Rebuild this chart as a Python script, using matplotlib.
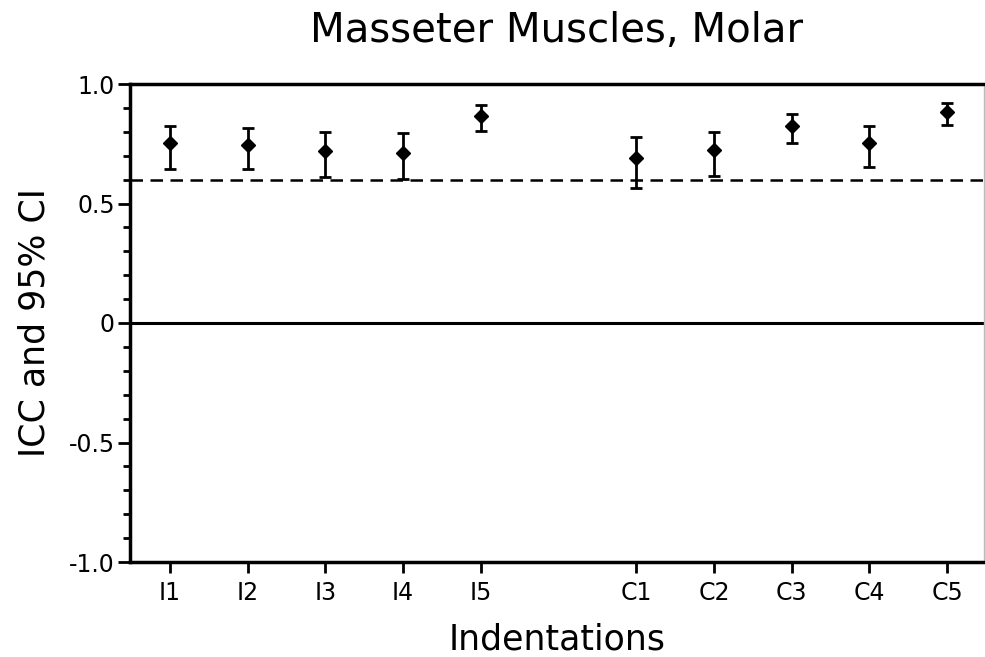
import numpy as np
import matplotlib
matplotlib.use('Agg')
import matplotlib.pyplot as plt

plt.rcParams['font.family'] = ['DejaVu Sans']

# ICC estimates with 95% CI
labels = ['I1', 'I2', 'I3', 'I4', 'I5', 'C1', 'C2', 'C3', 'C4', 'C5']
positions = [1, 2, 3, 4, 5, 7, 8, 9, 10, 11]
icc = [0.752, 0.745, 0.721, 0.713, 0.866, 0.689, 0.724, 0.823, 0.752, 0.883]
ci_low = [0.646, 0.643, 0.611, 0.601, 0.803, 0.563, 0.614, 0.753, 0.653, 0.828]
ci_high = [0.824, 0.816, 0.799, 0.795, 0.911, 0.778, 0.801, 0.873, 0.823, 0.921]
threshold = 0.6

icc = np.array(icc)
yerr = np.vstack([icc - np.array(ci_low), np.array(ci_high) - icc])

fig = plt.figure(figsize=(9.85, 6.57), dpi=100)
ax = fig.add_axes([130 / 985, 1 - 562 / 657, 854 / 985, 478 / 657])

ax.axhline(0, color='black', lw=2.2, zorder=1)
ax.axhline(threshold, color='black', lw=1.8, ls=(0, (5, 3)), zorder=1)

ax.errorbar(positions, icc, yerr=yerr, fmt='D', color='black', ms=7.5,
            elinewidth=2, capsize=4.5, capthick=2, zorder=3)

ax.set_xlim(0.485, 11.476)
ax.set_ylim(-1.0, 1.0)
ax.set_xticks(positions)
ax.set_xticklabels(labels)
ax.set_yticks([-1.0, -0.5, 0, 0.5, 1.0])
ax.set_yticklabels(['-1.0', '-0.5', '0', '0.5', '1.0'])
ax.set_yticks(np.arange(-1.0, 1.01, 0.1), minor=True)

ax.tick_params(axis='y', which='major', length=9, width=2, labelsize=17, pad=2)
ax.tick_params(axis='y', which='minor', length=5, width=2)
ax.tick_params(axis='x', which='major', length=8, width=2, labelsize=17, pad=6)

for side in ['left', 'bottom', 'top']:
    ax.spines[side].set_linewidth(2.5)
ax.spines['right'].set_linewidth(1)
ax.spines['right'].set_color('#bbbbbb')

ax.set_xlabel('Indentations', fontsize=25, labelpad=12)
ax.set_ylabel('ICC and 95% CI', fontsize=25, labelpad=12)
ax.set_title('Masseter Muscles, Molar', fontsize=29, pad=30)

fig.savefig('out.png', dpi=100)
